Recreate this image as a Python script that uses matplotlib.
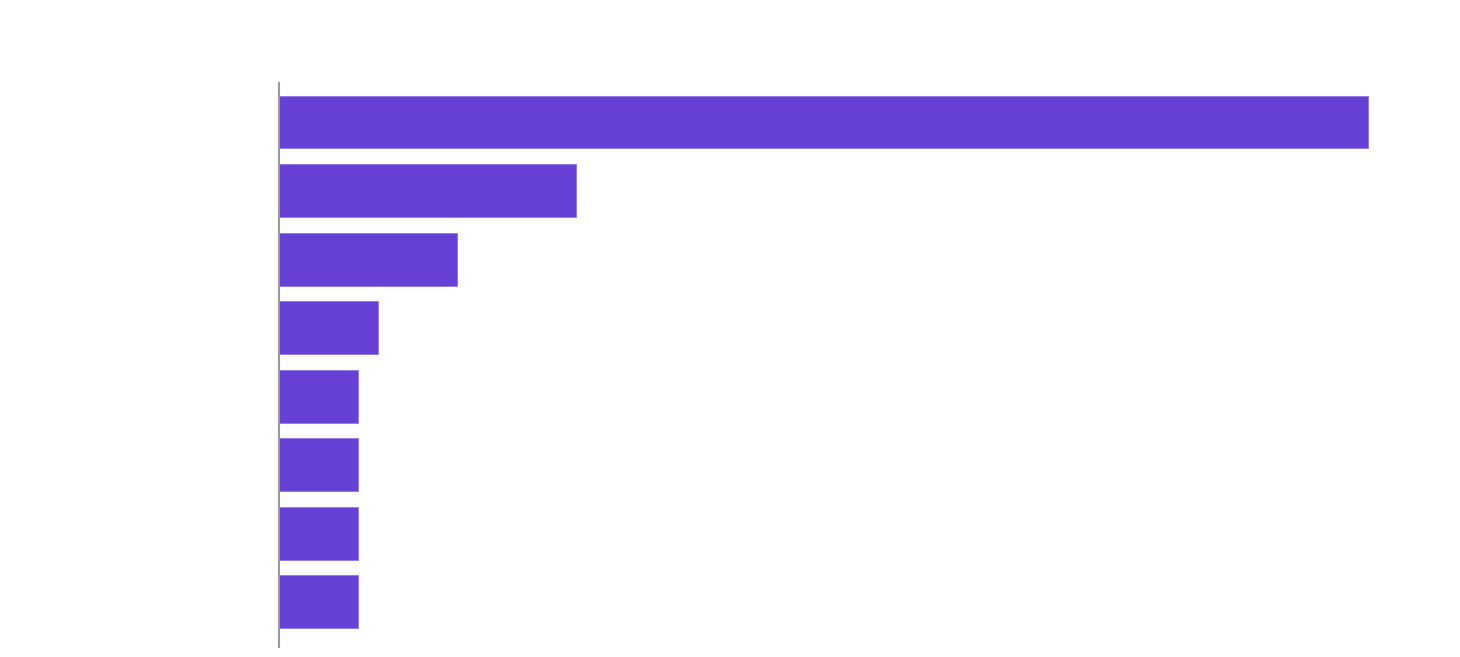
import matplotlib
matplotlib.use("Agg")
import matplotlib.pyplot as plt

# no labels are shown in the chart, only bar lengths
categories = ["A", "B", "C", "D", "E", "F", "G", "H"]
values = [55, 15, 9, 5, 4, 4, 4, 4]

fig = plt.figure(figsize=(14.6, 6.57), dpi=100)
ax = fig.add_axes([279 / 1460, 10 / 657, 1148 / 1460, 564 / 657])

pos = list(range(len(categories)))
ax.barh(pos, values, height=0.77, color="#6741d6", edgecolor="#8f74e6", linewidth=0.6)

ax.set_xlim(0, 58)
ax.set_ylim(len(categories) - 1 + 0.66, -0.57)

for side in ["top", "right", "bottom"]:
    ax.spines[side].set_visible(False)
ax.spines["left"].set_color("#999999")
ax.spines["left"].set_linewidth(1.5)
ax.set_xticks([])
ax.set_yticks([])

fig.savefig("out.png", dpi=100, facecolor="white")
